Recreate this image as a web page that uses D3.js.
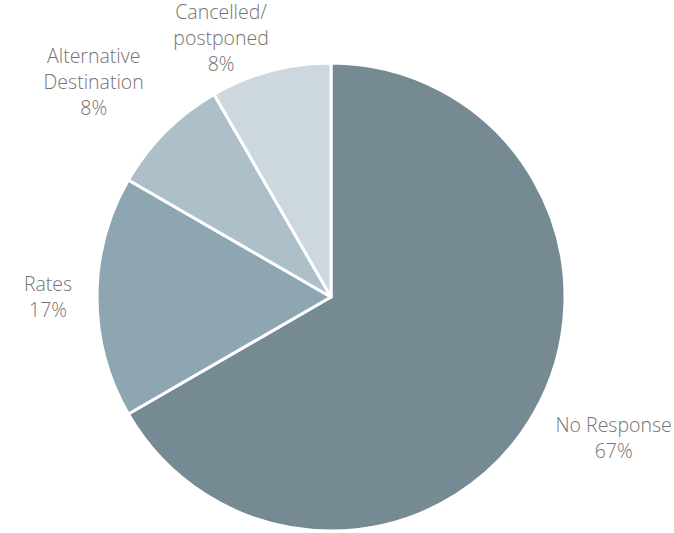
<!DOCTYPE html>
<html>
<head>
<meta charset="utf-8">
<script src="https://cdn.jsdelivr.net/npm/d3@7"></script>
<style>
  body { margin: 0; background: #fff; }
  text { font-family: "Open Sans", "Noto Sans", sans-serif; font-weight: 300; }
</style>
</head>
<body>
<div id="chart"></div>
<script>
// Datos del gráfico
const categories = ["No Response", "Rates", "Alternative Destination", "Cancelled/postponed"];
const labelLines = [["No Response"], ["Rates"], ["Alternative", "Destination"], ["Cancelled/", "postponed"]];
const values = [8, 2, 1, 1];
const colors = ["#758a93", "#8ea6b1", "#adc0c9", "#ccd7de"];

const width = 674;
const height = 533;
const cx = 331, cy = 297, r = 234;

const svg = d3.select("#chart").append("svg")
  .attr("width", width)
  .attr("height", height);

const pie = d3.pie().sort(null).value(d => d);
const arcs = pie(values);
const total = d3.sum(values);

const arc = d3.arc().innerRadius(0).outerRadius(r);

const g = svg.append("g").attr("transform", `translate(${cx},${cy})`);

g.selectAll("path")
  .data(arcs)
  .enter().append("path")
  .attr("d", arc)
  .attr("fill", (d, i) => colors[i])
  .attr("stroke", "#fff")
  .attr("stroke-width", 3)
  .attr("stroke-linejoin", "round");

// Etiquetas fuera del pastel: distancia radial y giro por etiqueta
const labelDist = [316, 283, 320, 281];
const labelTurn = [-0.06, 0, -0.05, -0.14];
const lineH = 26;

arcs.forEach((d, i) => {
  const mid = (d.startAngle + d.endAngle) / 2 + labelTurn[i];
  const x = Math.sin(mid) * labelDist[i];
  const y = -Math.cos(mid) * labelDist[i];
  const lines = labelLines[i].concat([Math.round(values[i] / total * 100) + "%"]);
  const t = g.append("text")
    .attr("text-anchor", "middle")
    .attr("font-size", 19.5)
    .attr("fill", "#777171");
  lines.forEach((s, j) => {
    t.append("tspan")
      .attr("x", x)
      .attr("y", y + (j - (lines.length - 1) / 2) * lineH + 7)
      .text(s);
  });
});
</script>
</body>
</html>
